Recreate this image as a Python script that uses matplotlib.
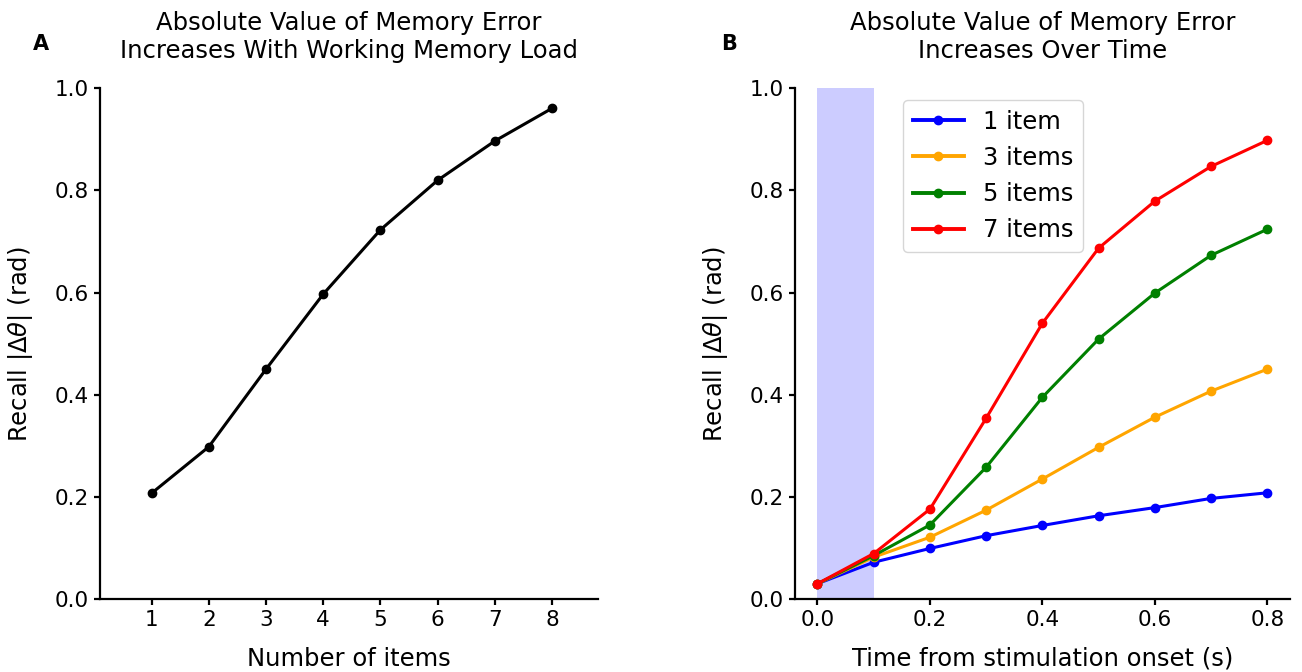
import matplotlib
matplotlib.use("Agg")
import matplotlib.pyplot as plt

# panel A: error vs number of items
n_items = [1, 2, 3, 4, 5, 6, 7, 8]
err_load = [0.207, 0.298, 0.450, 0.597, 0.723, 0.820, 0.897, 0.961]

# panel B: error vs time for several loads
times = [0.0, 0.1, 0.2, 0.3, 0.4, 0.5, 0.6, 0.7, 0.8]
err_1 = [0.030, 0.072, 0.099, 0.124, 0.144, 0.163, 0.179, 0.197, 0.208]
err_3 = [0.030, 0.082, 0.121, 0.174, 0.235, 0.297, 0.356, 0.407, 0.450]
err_5 = [0.030, 0.085, 0.145, 0.258, 0.395, 0.509, 0.599, 0.673, 0.724]
err_7 = [0.030, 0.089, 0.176, 0.354, 0.540, 0.687, 0.779, 0.847, 0.898]
series_labels = ["1 item", "3 items", "5 items", "7 items"]
series_colors = ["blue", "orange", "green", "red"]
stim_window = (0.0, 0.1)

plt.rcParams["font.family"] = "DejaVu Sans"
fig = plt.figure(figsize=(13.02, 6.72), dpi=100)
axA = fig.add_axes([0.0768, 0.1086, 0.3825, 0.760])
axB = fig.add_axes([0.6106, 0.1086, 0.380, 0.760])

axA.plot(n_items, err_load, "-o", color="black", lw=2.2, ms=6)
axA.set_xlim(0.1, 8.8)
axA.set_xticks(n_items)
axA.set_title("Absolute Value of Memory Error\nIncreases With Working Memory Load",
              fontsize=17.5, pad=22)
axA.set_xlabel("Number of items", fontsize=17.5, labelpad=12)

axB.axvspan(stim_window[0], stim_window[1], color="blue", alpha=0.2, lw=0)
for ys, lab, col in zip([err_1, err_3, err_5, err_7], series_labels, series_colors):
    axB.plot(times, ys, "-o", color=col, lw=2.2, ms=6, label=lab)
axB.set_xticks([0.0, 0.2, 0.4, 0.6, 0.8])
axB.set_title("Absolute Value of Memory Error\nIncreases Over Time", fontsize=17.5, pad=22)
axB.set_xlabel("Time from stimulation onset (s)", fontsize=17.5, labelpad=12)
leg = axB.legend(loc="upper left", bbox_to_anchor=(0.218, 0.977), borderaxespad=0,
                 fontsize=17.5, handlelength=2.1, borderpad=0.4, labelspacing=0.5)
for h in leg.get_lines():
    h.set_linewidth(2.8)

for ax in (axA, axB):
    ax.set_ylim(0, 1.0)
    ax.set_yticks([0.0, 0.2, 0.4, 0.6, 0.8, 1.0])
    ax.set_ylabel(r"Recall $|\Delta\theta|$ (rad)", fontsize=17.5, labelpad=14)
    ax.spines["top"].set_visible(False)
    ax.spines["right"].set_visible(False)
    for s in ("left", "bottom"):
        ax.spines[s].set_linewidth(1.6)
    ax.tick_params(labelsize=15.5, width=1.6, length=4, pad=4)

fig.text(0.025, 0.925, "A", fontsize=15, fontweight="bold")
fig.text(0.554, 0.925, "B", fontsize=15, fontweight="bold")

fig.savefig("out.png", dpi=100)
